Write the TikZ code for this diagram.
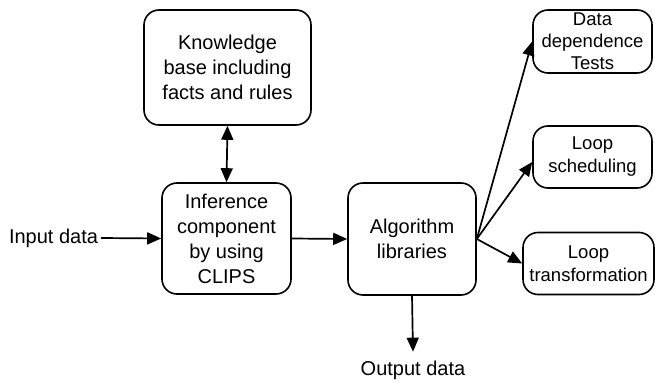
\documentclass[tikz,border=0pt]{standalone}
\usepackage{fontspec}
\setmainfont{Liberation Sans}
\usetikzlibrary{arrows.meta}
\begin{document}
\begin{tikzpicture}[x=1pt,y=-1pt,
  box/.style={draw,line width=1.6pt,rounded corners=15pt,align=center,inner sep=0pt,
    font=\fontsize{20}{25}\selectfont},
  lbl/.style={inner sep=0pt,font=\fontsize{20}{25}\selectfont},
  arr/.style={line width=1.7pt,-{Triangle[length=14pt,width=12pt]}},
  darr/.style={line width=1.7pt,{Triangle[length=14pt,width=12pt]}-{Triangle[length=14pt,width=12pt]}}]
\useasboundingbox (0,0) rectangle (655,382);
\node[box,minimum width=167pt,minimum height=115pt] (kb) at (227.5,67.5) {Knowledge\\base including\\facts and rules};
\node[box,minimum width=129pt,minimum height=111pt] (inf) at (226.5,238.5) {Inference\\component\\by using\\CLIPS};
\node[box,minimum width=128pt,minimum height=112pt] (alg) at (412,239) {Algorithm\\libraries};
\node[box,minimum width=119pt,minimum height=63pt,font=\fontsize{18.5}{22}\selectfont] (dd) at (592.5,41.5) {Data\\dependence\\Tests};
\node[box,minimum width=119pt,minimum height=62pt,font=\fontsize{18.5}{23}\selectfont] (ls) at (592.5,157) {Loop\\scheduling};
\node[box,minimum width=131pt,minimum height=62pt,font=\fontsize{18.5}{23}\selectfont] (lt) at (588.5,263.5) {Loop\\transformation};
\node[lbl,anchor=east,outer sep=3pt] (in) at (101,238) {Input data};
\node[lbl,outer sep=9pt] (out) at (413,370) {Output data};
\draw[arr] (in.east) -- (inf.west);
\draw[arr] (inf.east) -- (alg.west);
\draw[darr] (kb.south) -- (inf.north);
\draw[arr] (alg.south) -- (out.north);
\draw[arr] (alg.east) -- (dd.west);
\draw[arr] (alg.east) -- ([yshift=-5pt]ls.west);
\draw[arr] (alg.east) -- (lt.west);
\end{tikzpicture}
\end{document}
